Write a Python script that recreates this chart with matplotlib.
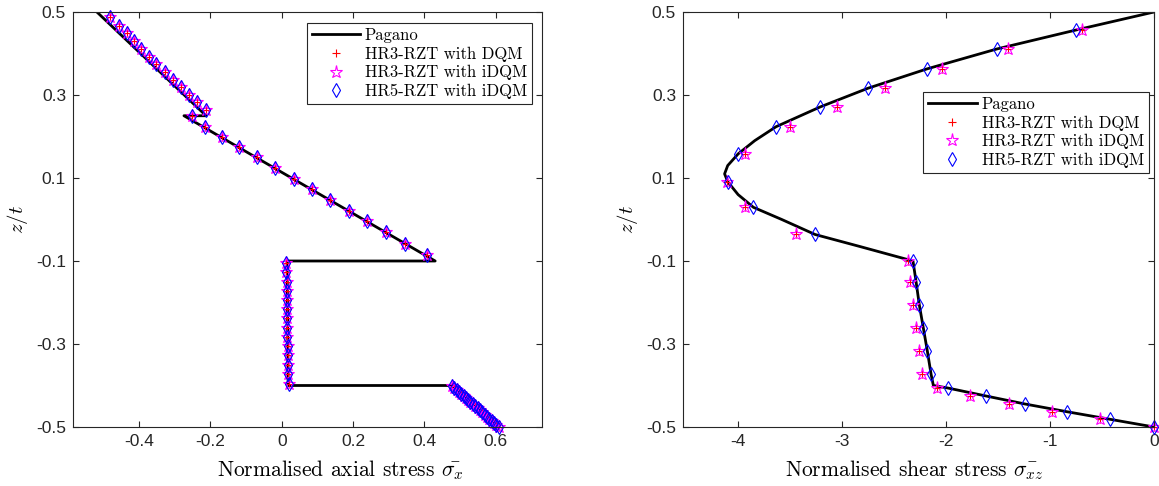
import matplotlib.pyplot as plt

plt.rcParams['mathtext.fontset'] = 'cm'

# ---- axial stress (left panel) ----
z_pag_ax = [0.5, 0.25, 0.25, -0.1, -0.1, -0.4, -0.4, -0.5]
sx_pag = [-0.518, -0.212, -0.274, 0.430, 0.015, 0.018, 0.477, 0.608]

z_num_ax = [0.487, 0.467, 0.449, 0.429, 0.411, 0.392, 0.375, 0.356, 0.337, 0.319,
            0.300, 0.282, 0.264,
            0.250,
            0.223, 0.199, 0.175, 0.150, 0.124, 0.098, 0.073, 0.047, 0.021, -0.004,
            -0.030, -0.058, -0.086,
            -0.1056, -0.1273, -0.1499, -0.1716, -0.194, -0.2157, -0.2382, -0.2608,
            -0.2831, -0.3048, -0.3272, -0.3499, -0.3731, -0.3964,
            -0.400, -0.405, -0.410, -0.415, -0.420, -0.425, -0.430, -0.435, -0.440,
            -0.445, -0.450, -0.455, -0.460, -0.465, -0.470, -0.475, -0.480, -0.485,
            -0.490, -0.495, -0.500]
sx_hr3_dqm = [-0.480, -0.457, -0.435, -0.415, -0.395, -0.373, -0.351, -0.328, -0.306, -0.283,
              -0.261, -0.237, -0.212,
              -0.252,
              -0.215, -0.168, -0.120, -0.070, -0.018, 0.034, 0.084, 0.136, 0.189, 0.240,
              0.292, 0.346, 0.408,
              0.013, 0.013, 0.014, 0.014, 0.014, 0.015, 0.015, 0.016,
              0.016, 0.017, 0.017, 0.018, 0.018, 0.019,
              0.477, 0.484, 0.490, 0.497, 0.503, 0.510, 0.516, 0.523, 0.529,
              0.536, 0.543, 0.549, 0.556, 0.562, 0.569, 0.575, 0.582, 0.588,
              0.595, 0.601, 0.608]
sx_hr3_idqm = list(sx_hr3_dqm)
sx_hr5_idqm = list(sx_hr3_dqm)

# ---- transverse shear stress (right panel) ----
z_pag_sh = [0.5, 0.4566, 0.4108, 0.3627, 0.3161, 0.2711, 0.2236, 0.19, 0.158, 0.13,
            0.11, 0.091, 0.06, 0.0294, 0.0, -0.0361, -0.065, -0.1,
            -0.1506, -0.206, -0.2622, -0.3169, -0.373, -0.4,
            -0.406, -0.4253, -0.4446, -0.4631, -0.4814, -0.5]
sxz_pag = [0.0, -0.750, -1.513, -2.186, -2.753, -3.212, -3.635, -3.84, -4.00, -4.10,
           -4.13, -4.10, -4.00, -3.853, -3.58, -3.260, -2.83, -2.318,
           -2.288, -2.257, -2.218, -2.180, -2.144, -2.122,
           -1.984, -1.615, -1.240, -0.839, -0.423, 0.0]

z_num_sh = [0.4566, 0.4108, 0.3627, 0.3161, 0.2711, 0.2236, 0.1578, 0.0911, 0.0294, -0.0361,
            -0.1, -0.1506, -0.206, -0.2622, -0.3169, -0.373,
            -0.406, -0.4253, -0.4446, -0.4631, -0.4814, -0.5]
sxz_hr3_dqm = [-0.692, -1.404, -2.036, -2.587, -3.051, -3.500, -3.933, -4.106, -3.933, -3.442,
               -2.363, -2.346, -2.314, -2.288, -2.257, -2.228,
               -2.089, -1.769, -1.394, -0.984, -0.519, 0.0]
sxz_hr3_idqm = list(sxz_hr3_dqm)
sxz_hr5_idqm = [-0.750, -1.513, -2.186, -2.753, -3.212, -3.635, -4.000, -4.096, -3.853, -3.260,
                -2.314, -2.288, -2.257, -2.218, -2.180, -2.144,
                -1.984, -1.615, -1.240, -0.839, -0.423, 0.0]

z_ticks = [0.5, 0.3, 0.1, -0.1, -0.3, -0.5]
z_ticklabels = ['0.5', '0.3', '0.1', '-0.1', '-0.3', '-0.5']
ax_ticks = [-0.4, -0.2, 0, 0.2, 0.4, 0.6]
ax_ticklabels = ['-0.4', '-0.2', '0', '0.2', '0.4', '0.6']
sh_ticks = [-4, -3, -2, -1, 0]
sh_ticklabels = ['-4', '-3', '-2', '-1', '0']

legend_labels = ['Pagano', 'HR3-RZT with DQM', 'HR3-RZT with iDQM', 'HR5-RZT with iDQM']

serif = 'cmr10'
tick_font = 'Liberation Sans'


def style_axes(ax):
    for s in ax.spines.values():
        s.set_color('#262626')
        s.set_linewidth(0.8)
    ax.tick_params(direction='in', top=True, right=True, length=4, width=0.8,
                   color='#262626', labelsize=12.5, labelcolor='#262626', pad=5)
    for lab in ax.get_xticklabels() + ax.get_yticklabels():
        lab.set_fontfamily(tick_font)


def draw_panel(ax, z_line, x_line, z_pts, x_dqm, x_idqm, x_idqm5):
    ax.plot(x_line, z_line, color='black', lw=2, label=legend_labels[0])
    ax.plot(x_dqm, z_pts, ls='none', marker='+', color='red', ms=6, mew=0.8,
            label=legend_labels[1], clip_on=False)
    ax.plot(x_idqm, z_pts, ls='none', marker='*', color='magenta', mfc='none', ms=9.5,
            mew=0.8, label=legend_labels[2], clip_on=False)
    ax.plot(x_idqm5, z_pts, ls='none', marker='d', color='blue', mfc='none', ms=7,
            mew=0.8, label=legend_labels[3], clip_on=False)
    ax.set_ylim(-0.5, 0.5)
    ax.set_yticks(z_ticks)
    ax.set_yticklabels(z_ticklabels)
    ax.set_ylabel(r'$z/t$', fontsize=15, labelpad=4)


fig = plt.figure(figsize=(11.59, 4.86), dpi=100)
ax1 = fig.add_axes([73 / 1159, 1 - 427 / 486, 468.5 / 1159, 415 / 486])
ax2 = fig.add_axes([683 / 1159, 1 - 427 / 486, 471 / 1159, 415 / 486])

draw_panel(ax1, z_pag_ax, sx_pag, z_num_ax, sx_hr3_dqm, sx_hr3_idqm, sx_hr5_idqm)
ax1.set_xlim(-0.585, 0.728)
ax1.set_xticks(ax_ticks)
ax1.set_xticklabels(ax_ticklabels)
ax1.set_xlabel(r'Normalised axial stress $\bar{\sigma_x}$', fontsize=15.5,
               fontfamily=serif, labelpad=3)
ax1.xaxis.set_label_coords(0.57, -0.075)

draw_panel(ax2, z_pag_sh, sxz_pag, z_num_sh, sxz_hr3_dqm, sxz_hr3_idqm, sxz_hr5_idqm)
ax2.set_xlim(-4.53, 0)
ax2.set_xticks(sh_ticks)
ax2.set_xticklabels(sh_ticklabels)
ax2.set_xlabel(r'Normalised shear stress $\bar{\sigma_{xz}}$', fontsize=15.5,
               fontfamily=serif, labelpad=3)
ax2.xaxis.set_label_coords(0.49, -0.075)

for ax, anchor in ((ax1, (0.980, 0.974)), (ax2, (0.989, 0.808))):
    style_axes(ax)
    leg = ax.legend(loc='upper right', bbox_to_anchor=anchor, borderaxespad=0,
                    fancybox=False, framealpha=1, edgecolor='#262626',
                    prop={'family': serif, 'size': 12}, handlelength=2.9,
                    handletextpad=0.3, labelspacing=0.2, borderpad=0.3)
    leg.get_frame().set_linewidth(0.8)

fig.savefig('out.png', dpi=100)
